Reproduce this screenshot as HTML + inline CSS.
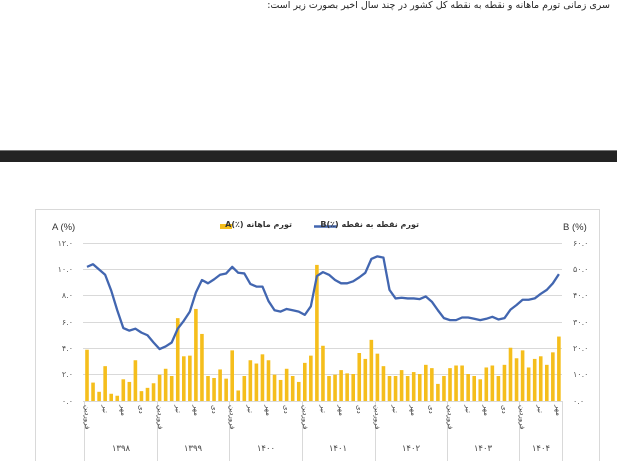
<!DOCTYPE html>
<html><head><meta charset="utf-8"><style>
body{margin:0;width:617px;height:461px;overflow:hidden;background:#fff;font-family:"Liberation Sans","Noto Sans CJK SC",sans-serif}
.t{position:absolute;white-space:nowrap;font-family:"DejaVu Sans",sans-serif}
</style></head><body>
<svg width="617" height="461" xmlns="http://www.w3.org/2000/svg" style="position:absolute;left:0;top:0">
<rect x="0" y="150" width="617" height="12" fill="#232323"/>
<rect x="0" y="150" width="617" height="1" fill="#777"/>
<rect x="35.5" y="209.5" width="564" height="260" fill="#fff" stroke="#d9d9d9"/>
<g stroke="#d9d9d9" stroke-width="1">
<line x1="83" x2="562" y1="243.5" y2="243.5"/><line x1="83" x2="562" y1="269.5" y2="269.5"/>
<line x1="83" x2="562" y1="295.5" y2="295.5"/><line x1="83" x2="562" y1="322.5" y2="322.5"/>
<line x1="83" x2="562" y1="348.5" y2="348.5"/><line x1="83" x2="562" y1="374.5" y2="374.5"/>
<line x1="83" x2="562" y1="401.5" y2="401.5"/>
<line x1="84.5" x2="84.5" y1="401" y2="461"/><line x1="157.5" x2="157.5" y1="401" y2="461"/>
<line x1="229.5" x2="229.5" y1="401" y2="461"/><line x1="302.5" x2="302.5" y1="401" y2="461"/>
<line x1="375.5" x2="375.5" y1="401" y2="461"/><line x1="447.5" x2="447.5" y1="401" y2="461"/>
<line x1="519.5" x2="519.5" y1="401" y2="461"/><line x1="562.5" x2="562.5" y1="401" y2="461"/>
</g>
<g font-size="8" fill="#555" font-family="DejaVu Sans, sans-serif">
<text x="73" y="246" text-anchor="end">۱۲.۰</text><text x="73" y="272" text-anchor="end">۱۰.۰</text>
<text x="73" y="298" text-anchor="end">۸.۰</text><text x="73" y="325" text-anchor="end">۶.۰</text>
<text x="73" y="351" text-anchor="end">۴.۰</text><text x="73" y="377" text-anchor="end">۲.۰</text>
<text x="73" y="404" text-anchor="end">۰.۰</text>
<text x="573" y="246">۶۰.۰</text><text x="573" y="272">۵۰.۰</text><text x="573" y="298">۴۰.۰</text>
<text x="573" y="325">۳۰.۰</text><text x="573" y="351">۲۰.۰</text><text x="573" y="377">۱۰.۰</text><text x="573" y="404">۰.۰</text>
</g>
<text x="52" y="230" font-size="9.5" fill="#333">A (%)</text>
<text x="563" y="230" font-size="9.5" fill="#333">B (%)</text>
<rect x="220" y="224" width="12" height="5" fill="#f5be1c"/>
<line x1="314" x2="337" y1="226.5" y2="226.5" stroke="#4266b0" stroke-width="2.5"/>
<g id="bars" fill="#f5be1c"></g>
<polyline id="ln" fill="none" stroke="#4266b0" stroke-width="2.3" stroke-linejoin="round" points=""/>
<g font-size="7" fill="#444" font-family="DejaVu Sans, sans-serif">
<text transform="translate(85,405) rotate(90)">فروردین</text><text transform="translate(103,405) rotate(90)">تیر</text><text transform="translate(121,405) rotate(90)">مهر</text><text transform="translate(139,405) rotate(90)">دی</text>
<text transform="translate(158,405) rotate(90)">فروردین</text><text transform="translate(176,405) rotate(90)">تیر</text><text transform="translate(194,405) rotate(90)">مهر</text><text transform="translate(212,405) rotate(90)">دی</text>
<text transform="translate(230,405) rotate(90)">فروردین</text><text transform="translate(248,405) rotate(90)">تیر</text><text transform="translate(266,405) rotate(90)">مهر</text><text transform="translate(284,405) rotate(90)">دی</text>
<text transform="translate(303,405) rotate(90)">فروردین</text><text transform="translate(321,405) rotate(90)">تیر</text><text transform="translate(339,405) rotate(90)">مهر</text><text transform="translate(357,405) rotate(90)">دی</text>
<text transform="translate(375,405) rotate(90)">فروردین</text><text transform="translate(393,405) rotate(90)">تیر</text><text transform="translate(411,405) rotate(90)">مهر</text><text transform="translate(429,405) rotate(90)">دی</text>
<text transform="translate(448,405) rotate(90)">فروردین</text><text transform="translate(466,405) rotate(90)">تیر</text><text transform="translate(484,405) rotate(90)">مهر</text><text transform="translate(502,405) rotate(90)">دی</text>
<text transform="translate(520,405) rotate(90)">فروردین</text><text transform="translate(538,405) rotate(90)">تیر</text><text transform="translate(556,405) rotate(90)">مهر</text>
</g>
<g font-size="8.5" fill="#444" text-anchor="middle" font-family="DejaVu Sans, sans-serif">
<text x="121" y="451">۱۳۹۸</text><text x="193" y="451">۱۳۹۹</text><text x="266" y="451">۱۴۰۰</text>
<text x="338" y="451">۱۴۰۱</text><text x="411" y="451">۱۴۰۲</text><text x="483" y="451">۱۴۰۳</text><text x="541" y="451">۱۴۰۴</text>
</g>
</svg>
<div class="t" style="right:7px;top:0;font-size:9.5px;color:#222;direction:rtl">سری زمانی تورم ماهانه و نقطه به نقطه کل کشور در چند سال اخیر بصورت زیر است:</div>
<div class="t" style="left:234px;top:220px;font-size:8px;font-weight:bold;color:#333;direction:rtl;width:58px;text-align:left">تورم ماهانه (٪)A</div>
<div class="t" style="left:339px;top:220px;font-size:8px;font-weight:bold;color:#333;direction:rtl;width:80px;text-align:left">تورم نقطه به نقطه (٪)B</div>
<script>
var A=[3.9,1.4,0.7,2.65,0.55,0.4,1.65,1.45,3.1,0.75,1.0,1.35,
2.0,2.45,1.9,6.3,3.4,3.45,7.0,5.1,1.9,1.75,2.4,1.7,
3.85,0.8,1.9,3.1,2.85,3.55,3.1,2.0,1.6,2.45,1.9,1.45,
2.9,3.45,10.35,4.2,1.9,2.0,2.35,2.1,2.05,3.65,3.2,4.65,
3.6,2.65,1.9,1.9,2.35,1.9,2.2,2.05,2.75,2.5,1.3,1.9,
2.5,2.7,2.7,2.05,1.9,1.65,2.55,2.7,1.9,2.75,4.05,3.25,
3.85,2.55,3.2,3.4,2.75,3.7,4.9];
var B=[10.2,10.4,10.0,9.6,8.4,6.9,5.55,5.35,5.5,5.2,5.0,4.45,
3.95,4.15,4.45,5.5,6.1,6.8,8.25,9.2,8.95,9.25,9.6,9.7,
10.2,9.75,9.7,8.9,8.7,8.7,7.6,6.9,6.8,7.0,6.9,6.8,
6.55,7.2,9.5,9.8,9.6,9.2,8.95,8.95,9.1,9.4,9.75,10.8,
11.0,10.9,8.45,7.8,7.85,7.8,7.8,7.75,7.95,7.55,6.9,6.3,
6.15,6.15,6.35,6.35,6.25,6.15,6.25,6.4,6.2,6.3,6.95,7.3,
7.7,7.7,7.8,8.15,8.45,8.95,9.65];
var g=document.getElementById('bars'),s='',p=[];
for(var i=0;i<A.length;i++){var x=87+6.05*i,h=A[i]*13.15;
s+='<rect x="'+(x-1.8).toFixed(2)+'" y="'+(401-h).toFixed(2)+'" width="3.6" height="'+h.toFixed(2)+'"/>';
p.push(x.toFixed(2)+','+(401-B[i]*13.15).toFixed(2));}
g.innerHTML=s;document.getElementById('ln').setAttribute('points',p.join(' '));
</script>
</body></html>
